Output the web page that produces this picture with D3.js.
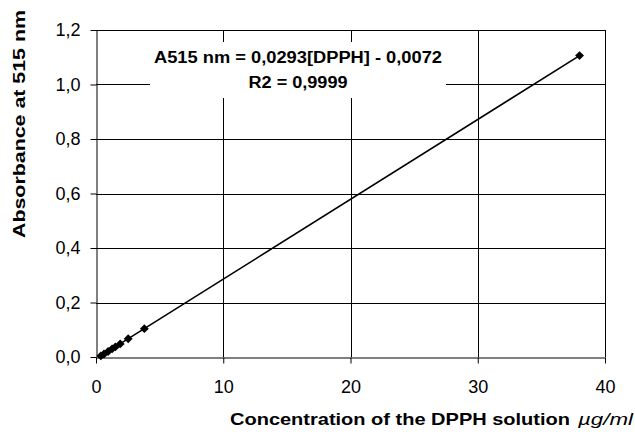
<!DOCTYPE html>
<html>
<head>
<meta charset="utf-8">
<script src="https://cdn.jsdelivr.net/npm/d3@7"></script>
<style>
	body { margin: 0; background: #fff; }
	text { font-family: "Liberation Sans", Arial, sans-serif; fill: #000; }
</style>
</head>
<body>
<div id="chart"></div>
<script>
// DPPH calibration curve: concentration vs absorbance at 515 nm

var concentrations = [0.38, 0.63, 0.95, 1.27, 1.52, 1.9, 2.53, 3.8, 38];
var absorbances = [0.004, 0.011, 0.020, 0.030, 0.037, 0.048, 0.067, 0.104, 1.106];
var xTicks = [0, 10, 20, 30, 40];
var yTicks = [0, 0.2, 0.4, 0.6, 0.8, 1.0, 1.2];
var trendSlope = 0.0293;
var trendIntercept = -0.0072;
var equationLines = ["A515 nm = 0,0293[DPPH] - 0,0072", "R2 = 0,9999"];

var width = 635, height = 437;
var margin = {left: 96, right: 30, top: 30, bottom: 80};

var svg = d3.select("#chart").append("svg")
	.attr("width", width)
	.attr("height", height);

var x = d3.scaleLinear().domain([0, 40]).range([margin.left, width - margin.right]);
var y = d3.scaleLinear().domain([0, 1.2]).range([height - margin.bottom, margin.top]);

var fmt = function(d) { return d3.format(".1f")(d).replace(".", ","); };

// gridlines
svg.append("g").selectAll("line.hgrid").data(yTicks.slice(1)).enter().append("line")
	.attr("class", "hgrid")
	.attr("x1", x(0)).attr("x2", x(40))
	.attr("y1", function(d) { return Math.round(y(d)) + 0.5; })
	.attr("y2", function(d) { return Math.round(y(d)) + 0.5; })
	.attr("stroke", "#000").attr("stroke-width", 1);
svg.append("g").selectAll("line.vgrid").data(xTicks.slice(1)).enter().append("line")
	.attr("class", "vgrid")
	.attr("y1", y(0)).attr("y2", y(1.2))
	.attr("x1", function(d) { return Math.round(x(d)) + 0.5; })
	.attr("x2", function(d) { return Math.round(x(d)) + 0.5; })
	.attr("stroke", "#000").attr("stroke-width", 1);

// axes
var x0 = Math.round(y(0)) + 0.5;
var xAxis = svg.append("g")
	.attr("transform", "translate(0," + x0 + ")")
	.call(d3.axisBottom(x).tickValues(xTicks).tickSize(6).tickSizeOuter(0).tickFormat(d3.format("d")));
var yAxis = svg.append("g")
	.attr("transform", "translate(" + (Math.round(x(0)) + 0.5) + ",0)")
	.call(d3.axisLeft(y).tickValues(yTicks).tickSize(6).tickSizeOuter(0).tickFormat(fmt));
[xAxis, yAxis].forEach(function(ax) {
	ax.select(".domain").attr("stroke", "#000");
	ax.selectAll(".tick line").attr("stroke", "#000");
	ax.selectAll("text").attr("font-family", null).style("font-size", "18px").attr("fill", "#000");
});
xAxis.selectAll("text").attr("y", 393 - x0).attr("dy", 0);
yAxis.selectAll("text").attr("x", -16);

// trend line over data range
var xMin = d3.min(concentrations), xMax = d3.max(concentrations);
svg.append("line")
	.attr("x1", x(xMin)).attr("y1", y(trendSlope * xMin + trendIntercept))
	.attr("x2", x(xMax)).attr("y2", y(trendSlope * xMax + trendIntercept))
	.attr("stroke", "#000").attr("stroke-width", 1.6);

// markers (diamonds)
var points = concentrations.map(function(c, i) { return {x: c, y: absorbances[i]}; });
svg.append("g").selectAll("path.pt").data(points).enter().append("path")
	.attr("class", "pt")
	.attr("d", d3.symbol().type(d3.symbolDiamond2).size(50))
	.attr("transform", function(d) { return "translate(" + x(d.x) + "," + y(d.y) + ")"; })
	.attr("fill", "#000");

// equation label
var eqWidths = [288, 99];
svg.append("rect")
	.attr("x", 150).attr("y", 42).attr("width", 296).attr("height", 56)
	.attr("fill", "#fff");
svg.append("g").selectAll("text.eq").data(equationLines).enter().append("text")
	.attr("class", "eq")
	.attr("x", function(d, i) { return 298 - eqWidths[i] / 2; })
	.attr("y", function(d, i) { return 63 + i * 25; })
	.attr("textLength", function(d, i) { return eqWidths[i]; })
	.attr("lengthAdjust", "spacingAndGlyphs")
	.style("font-size", "16px").style("font-weight", "bold")
	.text(function(d) { return d; });

// axis titles
svg.append("text")
	.attr("x", 230).attr("y", 425)
	.attr("textLength", 340).attr("lengthAdjust", "spacingAndGlyphs")
	.style("font-size", "17px").style("font-weight", "bold")
	.text("Concentration of the DPPH solution");
svg.append("text")
	.attr("x", 578).attr("y", 425)
	.attr("textLength", 55).attr("lengthAdjust", "spacingAndGlyphs")
	.style("font-size", "17px").style("font-style", "italic")
	.text("µg/ml");

svg.append("text")
	.attr("transform", "translate(25,238) rotate(-90)")
	.attr("textLength", 228).attr("lengthAdjust", "spacingAndGlyphs")
	.style("font-size", "17px").style("font-weight", "bold")
	.text("Absorbance at 515 nm");
</script>
</body>
</html>
